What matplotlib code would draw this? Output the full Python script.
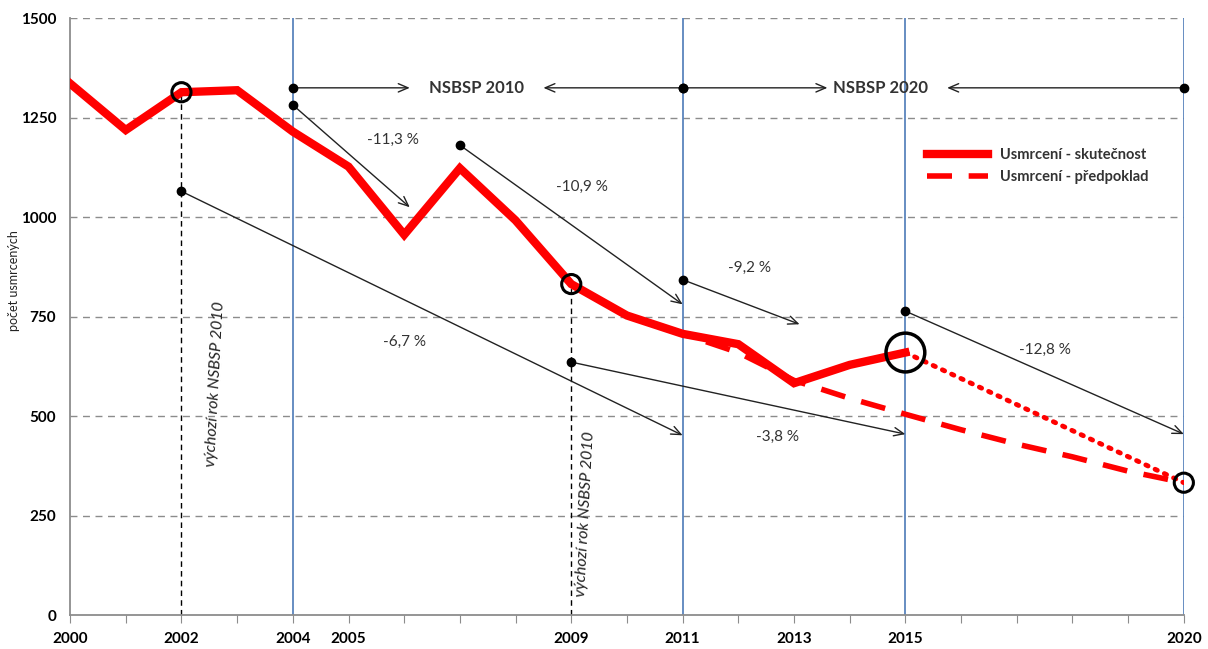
import matplotlib
matplotlib.use("Agg")
import matplotlib.pyplot as plt

plt.rcParams['font.family'] = ['Lato', 'DejaVu Sans']

# skutecnost (actual fatalities)
years = [2000, 2001, 2002, 2003, 2004, 2005, 2006, 2007, 2008, 2009,
         2010, 2011, 2012, 2013, 2014, 2015]
deaths = [1336, 1219, 1314, 1319, 1215, 1127, 956, 1123, 992, 832,
          753, 707, 681, 583, 629, 660]

# predpoklad (expected trend)
pred_years = [2010, 2011, 2012, 2013, 2014, 2015, 2016, 2017, 2018, 2019, 2020]
pred_vals = [753, 707, 660, 590, 545, 505, 466, 430, 398, 362, 333]

# dotted projection 2015 -> 2020
proj_years = [2015, 2020]
proj_vals = [660, 333]

# circled points
circ_small_years = [2002, 2009, 2020]
circ_small_vals = [1314, 832, 333]
circ_big_year = 2015
circ_big_val = 660

blue_years = [2004, 2011, 2015, 2020]
tick_labels = {2000: '2000', 2002: '2002', 2004: '2004', 2005: '2005', 2009: '2009',
               2011: '2011', 2013: '2013', 2015: '2015', 2020: '2020'}

# percentage arrows: (x0, y0, x1, y1, label, lx, ly)
arrows = [
    (2002, 1065, 2011, 452, '-6,7 %', 2006.0, 686),
    (2004, 1282, 2006.1, 1025, '-11,3 %', 2005.8, 1193),
    (2007, 1181, 2011, 781, '-10,9 %', 2009.2, 1075),
    (2011, 843, 2013.1, 731, '-9,2 %', 2012.2, 872),
    (2009, 636, 2015, 455, '-3,8 %', 2012.7, 447),
    (2015, 764, 2020, 455, '-12,8 %', 2017.5, 666),
]

# NSBSP period arrows: (start, text_left_x, text_x, text_right_x, end, label)
periods = [
    (2004, 2006.1, 2007.3, 2008.5, 2011, 'NSBSP 2010'),
    (2011, 2013.6, 2014.55, 2015.75, 2020, 'NSBSP 2020'),
]
period_y = 1325

fig = plt.figure(figsize=(12.08, 6.49), dpi=100)
ax = fig.add_axes([0.058, 0.052, 0.922, 0.920])

ax.set_xlim(2000, 2020)
ax.set_ylim(0, 1500)

for yv in [250, 500, 750, 1000, 1250, 1500]:
    ax.axhline(yv, color='#8c8c8c', lw=1.0, ls=(0, (5, 4)), zorder=1)

for xv in blue_years:
    ax.axvline(xv, color='#5b85bd', lw=1.3, zorder=2)

ax.plot([2002, 2002], [0, 1314], color='black', lw=1.0, ls=(0, (4, 3)), zorder=2)
ax.plot([2009, 2009], [0, 832], color='black', lw=1.0, ls=(0, (4, 3)), zorder=2)

ax.plot(pred_years, pred_vals, color='#ff0000', lw=4, ls=(0, (4.5, 3)), zorder=3,
        label='Usmrcení - předpoklad')
ax.plot(proj_years, proj_vals, color='#ff0000', lw=3.5, ls=(0, (0.5, 1.6)), zorder=3,
        dash_capstyle='round')
ax.plot(years, deaths, color='#ff0000', lw=6, zorder=4, solid_joinstyle='miter',
        label='Usmrcení - skutečnost')

ax.scatter(circ_small_years, circ_small_vals, s=190, facecolors='none',
           edgecolors='black', linewidths=2.2, zorder=6, clip_on=False)
ax.scatter([circ_big_year], [circ_big_val], s=780, facecolors='none',
           edgecolors='black', linewidths=2.5, zorder=6, clip_on=False)

for x0, y0, x1, y1, lab, lx, ly in arrows:
    ax.annotate('', xy=(x1, y1), xytext=(x0, y0),
                arrowprops=dict(arrowstyle='->,head_length=0.7,head_width=0.3',
                                color='#222222', lw=1.0, shrinkA=0, shrinkB=0),
                zorder=5)
    ax.plot([x0], [y0], 'o', color='black', ms=6, zorder=6)
    ax.text(lx, ly, lab, fontsize=11, color='#333333', ha='center', va='center')

for x0, tl, tx, tr, x1, lab in periods:
    ax.annotate('', xy=(tl, period_y), xytext=(x0, period_y),
                arrowprops=dict(arrowstyle='->,head_length=0.7,head_width=0.3',
                                color='#222222', lw=1.0, shrinkA=0, shrinkB=0))
    ax.annotate('', xy=(tr, period_y), xytext=(x1, period_y),
                arrowprops=dict(arrowstyle='->,head_length=0.7,head_width=0.3',
                                color='#222222', lw=1.0, shrinkA=0, shrinkB=0),
                annotation_clip=False)
    ax.plot([x0, x1], [period_y, period_y], 'o', color='black', ms=6, zorder=6,
            clip_on=False, ls='none')
    ax.text(tx, period_y, lab, fontsize=12, fontweight='bold', color='#333333',
            ha='center', va='center')

ax.text(2002.6, 580, 'výchozí rok NSBSP 2010', rotation=87, fontsize=11.5,
        style='italic', color='#222222', ha='center', va='center')
ax.text(2009.25, 255, 'výchozí rok NSBSP 2010', rotation=87, fontsize=11.5,
        style='italic', color='#222222', ha='center', va='center')

handles, labels = ax.get_legend_handles_labels()
leg = ax.legend(handles[::-1], labels[::-1], loc='upper left',
                bbox_to_anchor=(0.755, 0.81), frameon=True, fontsize=10.5,
                handlelength=4.2, borderpad=0.6, labelspacing=0.6)
leg.get_frame().set_edgecolor('white')
leg.get_frame().set_facecolor('white')
leg.get_frame().set_alpha(1)
for t in leg.get_texts():
    t.set_fontweight('bold')
    t.set_color('#333333')

ax.set_xticks(list(range(2000, 2021)))
ax.set_xticklabels([tick_labels.get(y, '') for y in range(2000, 2021)],
                   fontweight='bold', fontsize=11)
ax.set_yticks([0, 250, 500, 750, 1000, 1250, 1500])
ax.set_yticklabels(['0', '250', '500', '750', '1000', '1250', '1500'],
                   fontweight='bold', fontsize=11)
ax.tick_params(axis='x', length=6, color='#8c8c8c', pad=6)
ax.tick_params(axis='y', length=0, pad=10)

ax.spines['top'].set_visible(False)
ax.spines['right'].set_visible(False)
ax.spines['left'].set_color('#8c8c8c')
ax.spines['bottom'].set_color('#8c8c8c')
ax.spines['left'].set_linewidth(1.3)
ax.spines['bottom'].set_linewidth(1.3)

ax.set_ylabel('počet usmrcených', fontsize=9, color='#222222', labelpad=4)
ax.yaxis.set_label_coords(-0.045, 0.56)

fig.savefig('out.png', dpi=100)
